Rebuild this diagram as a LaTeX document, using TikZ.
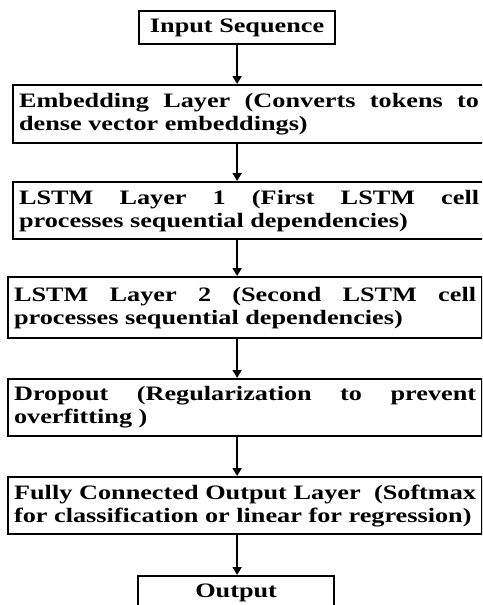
\documentclass[tikz,border=0pt]{standalone}
\usepackage{fontspec}
\setmainfont{Liberation Serif}[FakeStretch=1.28]
\usetikzlibrary{arrows.meta}
\begin{document}
\begin{tikzpicture}[x=1pt,y=-1pt,
  txt/.style={font=\bfseries\fontsize{20.5}{23}\selectfont},
  wide/.style={draw, line width=2.2pt, inner xsep=6pt, inner ysep=0pt, anchor=north west, align=justify, txt},
  small/.style={draw, line width=2.2pt, inner sep=0pt, anchor=north west, minimum width=196pt, minimum height=33pt, align=center, txt},
  arr/.style={line width=2.4pt, -{Triangle[length=8pt,width=9pt]}}]
\clip (0,0) rectangle (482,605);
\fill[white] (0,0) rectangle (482,605);
\node[small] (in) at (138,10) {Input Sequence};
\node[wide, text width=460pt, minimum height=58pt] (emb) at (12,84)
  {Embedding Layer (Converts tokens to\linebreak dense vector embeddings)};
\node[wide, text width=460pt, minimum height=57pt] (l1) at (12,181)
  {LSTM Layer 1 (First LSTM cell\linebreak processes sequential dependencies)};
\node[wide, text width=462pt, minimum height=61pt] (l2) at (7,276)
  {LSTM Layer 2 (Second LSTM cell\linebreak processes sequential dependencies)};
\node[wide, text width=462pt, minimum height=57pt] (dr) at (7,378)
  {Dropout (Regularization to prevent\linebreak overfitting )};
\node[wide, text width=462pt, minimum height=57pt] (fc) at (7,476)
  {Fully Connected Output Layer\ \ (Softmax\linebreak for classification or linear for regression)};
\node[small] (out) at (137,575) {Output};
\draw[arr] (in.south) -- (in.south |- emb.north);
\draw[arr] (in.south |- emb.south) -- (in.south |- l1.north);
\draw[arr] (in.south |- l1.south) -- (in.south |- l2.north);
\draw[arr] (in.south |- l2.south) -- (in.south |- dr.north);
\draw[arr] (in.south |- dr.south) -- (in.south |- fc.north);
\draw[arr] (in.south |- fc.south) -- (in.south |- out.north);
\end{tikzpicture}
\end{document}
